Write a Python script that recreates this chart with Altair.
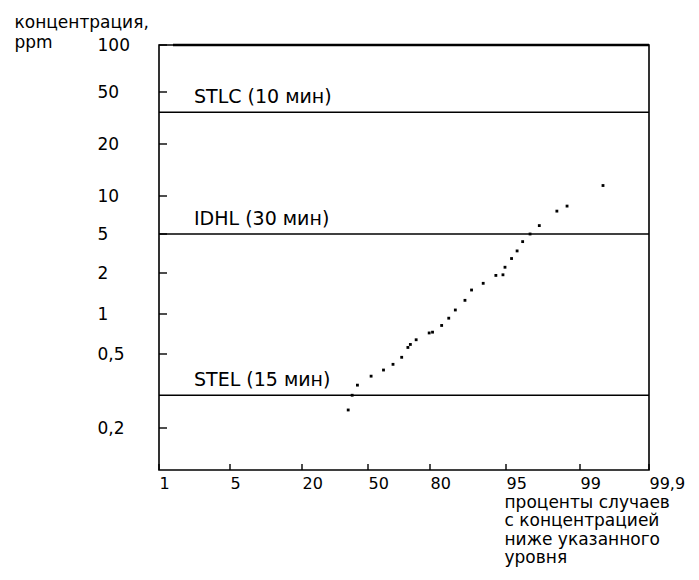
import altair as alt
import pandas as pd

# percent of cases with concentration below given level
pct = [41.0, 42.8, 45.2, 51.5, 57.5, 62.1, 66.3, 69.3, 70.5, 73.3, 79.6, 80.5,
       82.3, 83.7, 85.0, 86.9, 88.2, 90.5, 93.0, 94.4, 94.8, 95.3, 95.6, 95.9,
       96.3, 96.8, 97.75, 98.3, 99.3]
# concentration, ppm
conc = [0.25, 0.30, 0.34, 0.38, 0.41, 0.44, 0.48, 0.56, 0.59, 0.64, 0.72, 0.73,
        0.82, 0.93, 1.07, 1.26, 1.5, 1.68, 1.92, 1.94, 2.29, 2.81, 3.36, 4.18,
        5.0, 5.83, 7.59, 8.32, 11.5]

limit_names = ["STLC (10 мин)", "IDHL (30 мин)", "STEL (15 мин)"]
limit_values = [35, 5, 0.3]

y_ticks = [100, 50, 20, 10, 5, 2, 1, 0.5, 0.2]
x_ticks = [1, 5, 20, 50, 80, 95, 99, 99.9]

W, H = 490, 425
FONT = "DejaVu Sans"

pts = pd.DataFrame({"pct": pct, "conc": conc})
lims = pd.DataFrame({"name": limit_names, "value": limit_values})
yt = pd.DataFrame({"v": y_ticks})
xt = pd.DataFrame({"p": x_ticks})

xscale = alt.Scale(type="linear", domain=x_ticks,
                   range=[0, 71, 143, 209, 271, 347, 421, W], nice=False, zero=False)
yscale = alt.Scale(type="log", domain=y_ticks + [0.12],
                   range=[0, 47, 99, 151, 189, 228, 269, 309, 383, H], nice=False)

lab = "replace(toString(datum.value), '.', ',')"

xaxis = alt.Axis(values=x_ticks, labelExpr=lab, domain=False, ticks=False, tickSize=0,
                 grid=False, labelAlign="left", labelBaseline="top", labelPadding=5,
                 labelFlush=False, labelOverlap=False, labelFont=FONT, labelFontSize=16,
                 labelColor="black",
                 title=["проценты случаев", "с концентрацией", "ниже указанного", "уровня"],
                 titleAlign="left", titleBaseline="top", titleX=345, titleY=24,
                 titleAngle=0, titleFont=FONT, titleFontSize=17, titleFontWeight="normal",
                 titleLineHeight=18.5, titleColor="black")
yaxis = alt.Axis(values=y_ticks, labelExpr=lab, domain=False, ticks=False, tickSize=0,
                 grid=False, labelAlign="left", labelBaseline="middle", labelPadding=62,
                 labelFlush=False, labelOverlap=False, labelFont=FONT, labelFontSize=17,
                 labelColor="black",
                 title=["концентрация,", "ppm"], titleAngle=0, titleAlign="left",
                 titleBaseline="top", titleX=-145, titleY=-31, titleFont=FONT,
                 titleFontSize=17, titleFontWeight="normal", titleLineHeight=20,
                 titleColor="black")

base_x = alt.X("pct:Q", scale=xscale, axis=xaxis)
base_y = alt.Y("conc:Q", scale=yscale, axis=yaxis)

points = alt.Chart(pts).mark_square(size=8, color="black", opacity=1).encode(
    x=base_x, y=base_y)

rules = alt.Chart(lims).mark_rule(color="black", strokeWidth=1.6).encode(
    y=alt.Y("value:Q", scale=yscale))

texts = alt.Chart(lims).mark_text(align="left", baseline="alphabetic", dy=-9,
                                  font=FONT, fontSize=19, color="black").encode(
    x=alt.value(35), y=alt.Y("value:Q", scale=yscale), text="name:N")

top_line = alt.Chart(pd.DataFrame({"v": [y_ticks[0]]})).mark_rule(
    color="black", strokeWidth=2.6).encode(
    x=alt.value(14), x2=alt.value(W), y=alt.Y("v:Q", scale=yscale))

ytick_marks = alt.Chart(yt).mark_rule(color="black", strokeWidth=1.4).encode(
    x=alt.value(0), x2=alt.value(8), y=alt.Y("v:Q", scale=yscale))
xtick_marks = alt.Chart(xt).mark_rule(color="black", strokeWidth=1.4).encode(
    x=alt.X("p:Q", scale=xscale), y=alt.value(H), y2=alt.value(H - 6))

chart = alt.layer(rules, top_line, ytick_marks, xtick_marks, points, texts).properties(
    width=W, height=H,
    autosize=alt.AutoSizeParams(type="none"),
    padding={"left": 151, "top": 37, "right": 42, "bottom": 102},
    background="white",
).configure_view(stroke="black", strokeWidth=1.6)

chart.save("out.html", embed_options={"renderer": "svg", "actions": False})
